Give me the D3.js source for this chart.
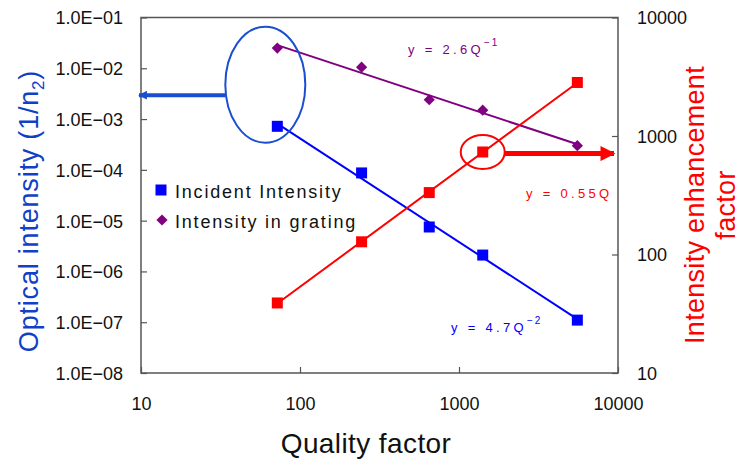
<!DOCTYPE html>
<html>
<head>
<meta charset="utf-8">
<script src="https://cdn.jsdelivr.net/npm/d3@7"></script>
<style>
  html, body { margin: 0; padding: 0; background: #fff; }
  svg { display: block; font-family: "Liberation Sans", Arial, sans-serif; }
</style>
</head>
<body>
<svg id="chart" width="742" height="460"></svg>
<script>
// Quality factor of each measured structure
const quality = [72, 244, 650, 1410, 5550];
// Optical intensity of the incident beam (1/n2), left axis
const incident = [7.2e-4, 8.7e-5, 7.5e-6, 2.1e-6, 1.1e-7];
// Optical intensity inside the grating (1/n2), left axis
const grating = [2.5e-2, 1.05e-2, 2.4e-3, 1.5e-3, 3.0e-4];
// Intensity enhancement factor, right axis
const enhancement = [39, 128, 333, 733, 2830];

const xTicks = [10, 100, 1000, 10000];
const leftTicks = [1e-8, 1e-7, 1e-6, 1e-5, 1e-4, 1e-3, 1e-2, 1e-1];
const rightTicks = [10, 100, 1000, 10000];

const seriesNames = ["Incident Intensity", "Intensity in grating"];
const fitLabels = { grating: ["y = 2.6Q", "\u22121"], enhancement: ["y = 0.55Q", ""], incident: ["y = 4.7Q", "\u22122"] };

const BLUE = "#0000ff", PURPLE = "#800080", RED = "#ff0000", NOTE_BLUE = "#1a4fd0";

const svg = d3.select("#chart");
const plot = { left: 141, right: 618, top: 17.5, bottom: 373 };

const x = d3.scaleLog().domain([10, 10000]).range([plot.left, plot.right]);
const yL = d3.scaleLog().domain([1e-8, 1e-1]).range([plot.bottom, plot.top]);
const yR = d3.scaleLog().domain([10, 10000]).range([plot.bottom, plot.top]);

// Power-law trend (least squares in log-log space)
function powerFit(xs, ys) {
  const lx = xs.map(Math.log10), ly = ys.map(Math.log10);
  const mx = d3.mean(lx), my = d3.mean(ly);
  const b = d3.sum(lx, (v, i) => (v - mx) * (ly[i] - my)) / d3.sum(lx, v => (v - mx) ** 2);
  const a = my - b * mx;
  return q => Math.pow(10, a + b * Math.log10(q));
}

const sciFmt = v => {
  const e = Math.round(Math.log10(v));
  return "1.0E" + (e < 0 ? "\u2212" : "+") + String(Math.abs(e)).padStart(2, "0");
};

// Frame
svg.append("rect")
  .attr("x", plot.left).attr("y", plot.top)
  .attr("width", plot.right - plot.left).attr("height", plot.bottom - plot.top)
  .attr("fill", "none").attr("stroke", "#555").attr("stroke-width", 1.5);

function styleAxis(g) {
  g.select(".domain").attr("stroke", "#555").attr("stroke-width", 1.5);
  g.selectAll(".tick line").attr("stroke", "#555").attr("stroke-width", 1.2);
  g.selectAll(".tick text").attr("fill", "#111").attr("font-size", 18);
}

svg.append("g").attr("transform", `translate(0,${plot.bottom})`)
  .call(d3.axisBottom(x).tickValues(xTicks).tickFormat(d3.format("d")).tickSize(-6).tickPadding(24))
  .call(styleAxis);

svg.append("g").attr("transform", `translate(${plot.left},0)`)
  .call(d3.axisLeft(yL).tickValues(leftTicks).tickFormat(sciFmt).tickSize(-6).tickPadding(18))
  .call(styleAxis)
  .selectAll(".tick text").attr("dy", "0.36em");

svg.append("g").attr("transform", `translate(${plot.right},0)`)
  .call(d3.axisRight(yR).tickValues(rightTicks).tickFormat(d3.format("d")).tickSize(-6).tickPadding(19))
  .call(styleAxis)
  .selectAll(".tick text").attr("dy", "0.36em");

svg.selectAll(".domain").remove();

// Trend lines
const line = d3.line();
function trend(ys, yScale, color) {
  const f = powerFit(quality, ys);
  const q0 = quality[0], q1 = quality[quality.length - 1];
  svg.append("path")
    .attr("d", line([[x(q0), yScale(f(q0))], [x(q1), yScale(f(q1))]]))
    .attr("fill", "none").attr("stroke", color).attr("stroke-width", 2);
}
trend(grating, yL, PURPLE);
trend(incident, yL, BLUE);
trend(enhancement, yR, RED);

// Markers
const sq = 11;
svg.append("g").selectAll("rect").data(quality).join("rect")
  .attr("x", (q) => x(q) - sq / 2).attr("y", (q, i) => yL(incident[i]) - sq / 2)
  .attr("width", sq).attr("height", sq).attr("fill", BLUE);
svg.append("g").selectAll("rect").data(quality).join("rect")
  .attr("x", (q) => x(q) - sq / 2).attr("y", (q, i) => yR(enhancement[i]) - sq / 2)
  .attr("width", sq).attr("height", sq).attr("fill", RED);
const diamond = d3.symbol().type(d3.symbolDiamond2).size(80);
svg.append("g").selectAll("path").data(quality).join("path")
  .attr("d", diamond)
  .attr("transform", (q, i) => `translate(${x(q)},${yL(grating[i])})`)
  .attr("fill", PURPLE);

// Fit equations
function equation(label, px, py, color) {
  const t = svg.append("text").attr("x", px).attr("y", py)
    .attr("fill", color).attr("font-size", 13).attr("letter-spacing", 3.3);
  t.append("tspan").text(label[0]);
  if (label[1]) t.append("tspan").attr("font-size", 10).attr("dy", -8).attr("letter-spacing", 2).text(label[1]);
}
equation(fitLabels.grating, 408, 54, PURPLE);
equation(fitLabels.enhancement, 526, 198, RED);
equation(fitLabels.incident, 451, 331.5, BLUE);

// Legend
const lg = svg.append("g").attr("transform", `translate(${plot.left + 20},0)`);
lg.append("rect").attr("x", -5.5).attr("y", 190 - 5.5).attr("width", sq).attr("height", sq).attr("fill", BLUE);
lg.append("path").attr("d", diamond).attr("transform", "translate(1,220)").attr("fill", PURPLE);
lg.selectAll("text").data(seriesNames).join("text")
  .attr("x", 14).attr("y", (d, i) => 197.5 + i * 30.5)
  .attr("font-size", 18).attr("letter-spacing", 1.8).attr("fill", "#111")
  .text(d => d);

// Annotations: grouped markers at the lowest Q, pointing to the left axis
const defs = svg.append("defs");
defs.append("marker").attr("id", "headBlue").attr("viewBox", "0 0 10 10")
  .attr("refX", 9).attr("refY", 5).attr("markerWidth", 2.2).attr("markerHeight", 3)
  .attr("markerUnits", "strokeWidth").attr("orient", "auto")
  .append("path").attr("d", "M0,0L10,5L0,10z").attr("fill", NOTE_BLUE);
defs.append("marker").attr("id", "headRed").attr("viewBox", "0 0 10 10")
  .attr("refX", 9).attr("refY", 5).attr("markerWidth", 3.4).attr("markerHeight", 3)
  .attr("markerUnits", "strokeWidth").attr("orient", "auto")
  .append("path").attr("d", "M0,0L10,5L0,10z").attr("fill", RED);

const bx = x(quality[0]) - 12;
const by = (yL(grating[0]) + yL(incident[0])) / 2 - 2.5;
svg.append("ellipse").attr("cx", bx).attr("cy", by).attr("rx", 40).attr("ry", 58)
  .attr("fill", "none").attr("stroke", NOTE_BLUE).attr("stroke-width", 2);
svg.append("line").attr("x1", bx - 40).attr("y1", by + 10.5).attr("x2", x(10) - 2).attr("y2", by + 10.5)
  .attr("stroke", NOTE_BLUE).attr("stroke-width", 4).attr("marker-end", "url(#headBlue)");

// Annotation: enhancement at Q≈1400, pointing to the right axis
const rx0 = x(quality[3]), ry0 = yR(enhancement[3]);
svg.append("ellipse").attr("cx", rx0).attr("cy", ry0).attr("rx", 22).attr("ry", 17)
  .attr("fill", "none").attr("stroke", RED).attr("stroke-width", 2);
svg.append("line").attr("x1", rx0 + 22).attr("y1", ry0 + 1.6).attr("x2", plot.right - 4).attr("y2", ry0 + 1.6)
  .attr("stroke", RED).attr("stroke-width", 5).attr("marker-end", "url(#headRed)");

// Axis titles
svg.append("text").attr("x", 366).attr("y", 453).attr("text-anchor", "middle")
  .attr("font-size", 28).attr("letter-spacing", 0.4).attr("fill", "#111").text("Quality factor");

const lt = svg.append("text").attr("transform", "translate(38,211) rotate(-90)")
  .attr("text-anchor", "middle").attr("font-size", 27).attr("letter-spacing", 0.8).attr("fill", "#1040c8");
lt.append("tspan").text("Optical intensity (1/n");
lt.append("tspan").attr("font-size", 17).attr("dy", 6).text("2");
lt.append("tspan").attr("dy", -6).text(")");

const rt = svg.append("text").attr("transform", "translate(0,205) rotate(-90)")
  .attr("text-anchor", "middle").attr("font-size", 27).attr("letter-spacing", 0.3).attr("fill", RED);
rt.append("tspan").attr("x", 0).attr("y", 704).text("Intensity enhancement");
rt.append("tspan").attr("x", 0).attr("y", 735).text("factor");
</script>
</body>
</html>
